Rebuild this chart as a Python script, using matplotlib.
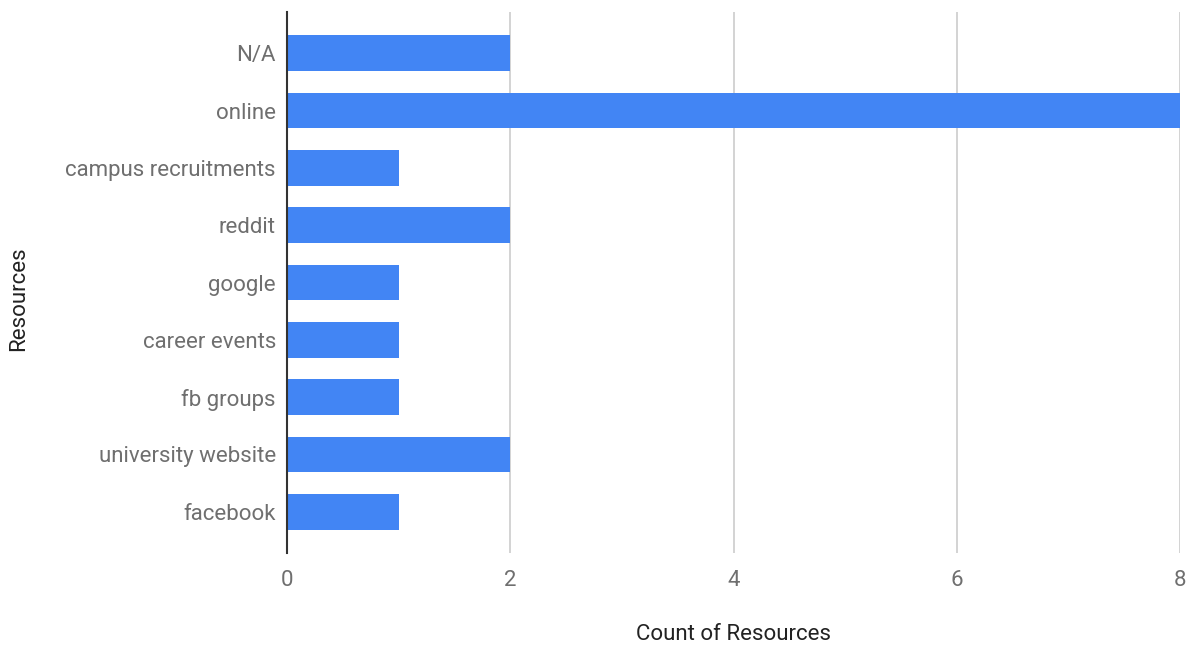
import matplotlib
matplotlib.use("Agg")
import matplotlib.pyplot as plt

categories = ["N/A", "online", "campus recruitments", "reddit", "google",
              "career events", "fb groups", "university website", "facebook"]
counts = [2, 8, 1, 2, 1, 1, 1, 2, 1]
x_ticks = [0, 2, 4, 6, 8]

plt.rcParams["font.family"] = ["Roboto", "DejaVu Sans"]

fig = plt.figure(figsize=(11.95, 6.46), dpi=100)
ax = fig.add_axes([287 / 1195, 1 - 553 / 646, (1180 - 287) / 1195, (553 - 12) / 646])

ypos = list(range(len(categories)))
ax.barh(ypos, counts, height=0.625, color="#4285f4", zorder=3)
ax.set_yticks(ypos)
ax.set_yticklabels(categories)
ax.set_ylim(len(categories) - 1 + 0.72, -0.72)
ax.set_xlim(0, 8)
ax.set_xticks(x_ticks)

ax.grid(axis="x", color="#cccccc", linewidth=1.2, zorder=0)
for side in ["top", "right", "bottom"]:
    ax.spines[side].set_visible(False)
ax.spines["left"].set_color("#333333")
ax.spines["left"].set_linewidth(1.5)
ax.spines["left"].set_zorder(4)

ax.tick_params(axis="both", length=0, labelsize=16, labelcolor="#6f6f6f")
ax.tick_params(axis="y", pad=8)
ax.tick_params(axis="x", pad=12)

ax.set_xlabel("Count of Resources", fontsize=16, color="#222222", labelpad=24)
ax.set_ylabel("Resources", fontsize=16, color="#222222")
ax.yaxis.set_label_coords(-258 / 893, 0.47)

fig.savefig("out.png", dpi=100)
